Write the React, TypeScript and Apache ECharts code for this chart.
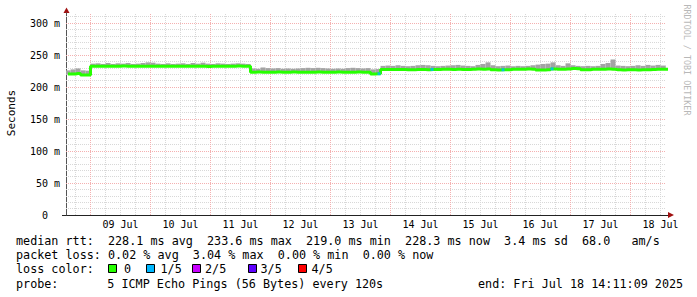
import React, { useEffect, useRef } from 'react';
import * as echarts from 'echarts';

// time is measured in hours after 08 Jul 00:00
const axisStart = 14.19;
const axisEnd = 254.19;
const startHour = 15;
const stepHours = 2;

const medianMs = [
  220.3, 220.3, 221.0, 218.8, 218.8,
  232.6, 232.5, 232.4, 232.6, 232.5, 232.5, 232.7, 232.5, 232.4, 232.5,
  232.6, 232.5, 232.5, 232.4, 232.6, 232.5, 232.5, 232.3, 232.4, 232.5,
  232.6, 232.5, 232.4, 232.2, 232.3, 232.5, 232.4, 232.6, 232.5, 232.7,
  232.6, 232.5,
  223.1, 223.3, 223.2, 223.0, 223.2, 223.3, 223.1, 223.2, 223.4, 223.2,
  223.1, 223.0, 223.2, 223.3, 223.2, 223.1, 223.2, 223.3, 223.1, 223.0,
  223.2, 223.3, 223.2, 223.1,
  220.5, 220.8,
  227.2, 227.3, 227.2, 227.4, 227.2, 227.0, 227.1, 227.3, 227.2, 227.0,
  227.3, 227.5, 227.6, 227.8, 227.5, 227.6, 227.4, 227.2, 227.8, 228.0,
  227.9, 228.2, 226.8, 226.7, 226.8, 227.0, 227.8, 227.9, 227.7, 228.0,
  227.8, 226.5, 226.4, 227.0, 228.3, 227.6, 227.9, 228.0, 228.9, 228.5,
  226.9, 227.1, 227.8, 227.9, 227.8, 228.0, 227.7, 226.8, 226.7, 226.9,
  226.8, 226.7, 226.9, 227.0, 227.5, 227.6, 227.8, 227.8,
];

const smokeTopMs = [
  226, 227.5, 229, 226, 225.5,
  236.5, 237, 236, 237.5, 236, 237, 236.5, 237.5, 236, 236.5,
  237.5, 238.5, 238, 236.5, 236, 237, 236, 236.5, 237, 236,
  237.5, 236.5, 238, 236.5, 236, 237, 236.5, 236, 236.5, 237,
  236.5, 236,
  229, 228.5, 230.5, 229.5, 229, 229.5, 228.5, 229, 228.5, 229,
  229.5, 230, 229.5, 230, 229.5, 229, 228.5, 229, 228.5, 229.5,
  230, 229.5, 229, 229.5,
  227.5, 228,
  233, 233.5, 233, 234, 233, 232.5, 233, 234, 234.5, 234,
  233, 232.5, 233, 233.5, 234, 234.5, 233.5, 233, 232.5, 234.5,
  236, 238.5, 234, 232.5, 233, 233.5, 232.5, 233, 232.5, 233,
  234, 235, 236, 236.5, 238.5, 234, 233, 237, 234, 233,
  232.5, 233, 232.5, 233, 236, 237.5, 243, 233.5, 233, 232.5,
  233, 234, 233, 234.5, 233.5, 234.5, 233.5, 233.5,
];

const lossHours = [139.4, 160.6, 189.0, 208.6];
const lossMs = [220.8, 227.4, 226.8, 228.3];

const dayLabels = ['09 Jul', '10 Jul', '11 Jul', '12 Jul', '13 Jul', '14 Jul', '15 Jul', '16 Jul', '17 Jul', '18 Jul'];
const dayLabelHours = [36, 60, 84, 108, 132, 156, 180, 204, 228, 252];
const majorXHours = [24, 48, 72, 96, 120, 144, 168, 192, 216, 240];
const minorXHours = [18, 30, 36, 42, 54, 60, 66, 78, 84, 90, 102, 108, 114, 126, 132, 138, 150, 156, 162, 174, 180, 186, 198, 204, 210, 222, 228, 234, 246, 252];
const majorYTicks = [50, 100, 150, 200, 250, 300];
const minorYTicks = [10, 20, 30, 40, 60, 70, 80, 90, 110, 120, 130, 140, 160, 170, 180, 190, 210, 220, 230, 240, 260, 270, 280, 290, 310];

const legendLine1 = 'median rtt:  228.1 ms avg  233.6 ms max  219.0 ms min  228.3 ms now  3.4 ms sd  68.0   am/s';
const legendLine2 = 'packet loss: 0.02 % avg  3.04 % max  0.00 % min  0.00 % now';
const lossLabels = ['0', '1/5', '2/5', '3/5', '4/5'];
const lossColors = ['#26ff00', '#00b8ff', '#c800ff', '#5e00ff', '#ff0000'];
const probeText = '5 ICMP Echo Pings (56 Bytes) every 120s';
const endText = 'end: Fri Jul 18 14:11:09 2025';

const MONO = '"DejaVu Sans Mono", monospace';

export default function App() {
  const ref = useRef<HTMLDivElement>(null);
  useEffect(() => {
    const chart = echarts.init(ref.current as HTMLDivElement, null, { renderer: 'svg' });
    const times = medianMs.map((_, i) => startHour + i * stepHours);
    const medianData = times.map((t, i) => [t, medianMs[i]]);
    const smokeData = times.map((t, i) => [t, medianMs[i] - 1, smokeTopMs[i]]);
    const lossData = lossHours.map((t, i) => [t, lossMs[i]]);

    const minorStyle = { color: '#d8d8d8', type: [1, 1], width: 1 };
    const majorStyle = { color: '#f4b0b0', type: [1, 1], width: 1 };
    const gridLines: any[] = [
      ...minorXHours.map((h) => ({ xAxis: h, lineStyle: minorStyle })),
      ...minorYTicks.map((v) => ({ yAxis: v, lineStyle: minorStyle })),
      ...majorXHours.map((h) => ({ xAxis: h, lineStyle: majorStyle })),
      ...majorYTicks.map((v) => ({ yAxis: v, lineStyle: majorStyle })),
    ];

    const legendFont = `11.76px ${MONO}`;
    const boxX = [108.5, 146.5, 192.5, 248.5, 298.5];
    const labelX = [124, 160.5, 205, 260.5, 311.5];
    const graphics: any[] = [
      { type: 'text', x: 11, y: 113, rotation: Math.PI / 2, style: { text: 'Seconds', font: `11px ${MONO}`, fill: '#000', align: 'center', verticalAlign: 'middle' } },
      { type: 'text', x: 687, y: 60, rotation: -Math.PI / 2, style: { text: 'RRDTOOL / TOBI OETIKER', font: `8.4px ${MONO}`, fill: '#b8b8b8', align: 'center', verticalAlign: 'middle' } },
      { type: 'polygon', shape: { points: [[63.5, 13], [69.5, 13], [66.5, 7.5]] }, style: { fill: '#a01010' } },
      { type: 'polygon', shape: { points: [[668, 212], [668, 218], [674, 215]] }, style: { fill: '#a01010' } },
      { type: 'line', shape: { x1: 62, y1: 215.5, x2: 668, y2: 215.5 }, style: { stroke: '#222', lineWidth: 1 } },
      { type: 'text', x: 16, y: 241, style: { text: legendLine1, font: legendFont, fill: '#000', align: 'left', verticalAlign: 'middle' } },
      { type: 'text', x: 16, y: 255, style: { text: legendLine2, font: legendFont, fill: '#000', align: 'left', verticalAlign: 'middle' } },
      { type: 'text', x: 16, y: 269, style: { text: 'loss color:', font: legendFont, fill: '#000', align: 'left', verticalAlign: 'middle' } },
      { type: 'text', x: 16, y: 283.5, style: { text: 'probe:', font: legendFont, fill: '#000', align: 'left', verticalAlign: 'middle' } },
      { type: 'text', x: 107.3, y: 283.5, style: { text: probeText, font: legendFont, fill: '#000', align: 'left', verticalAlign: 'middle' } },
      { type: 'text', x: 478, y: 283.5, style: { text: endText, font: legendFont, fill: '#000', align: 'left', verticalAlign: 'middle' } },
    ];
    lossLabels.forEach((lab, i) => {
      graphics.push({ type: 'rect', shape: { x: boxX[i], y: 264.5, width: 8, height: 8 }, style: { fill: lossColors[i], stroke: '#000', lineWidth: 1 } });
      graphics.push({ type: 'text', x: labelX[i], y: 269, style: { text: lab, font: legendFont, fill: '#000', align: 'left', verticalAlign: 'middle' } });
    });

    chart.setOption({
      animation: false,
      backgroundColor: '#ffffff',
      grid: { left: 66, top: 13, width: 600, height: 202, containLabel: false },
      xAxis: {
        type: 'value',
        min: axisStart,
        max: axisEnd,
        splitLine: { show: false },
        axisTick: { show: false },
        axisLine: { show: false },
        axisLabel: {
          customValues: dayLabelHours,
          formatter: (v: number) => {
            const k = dayLabelHours.findIndex((h) => Math.abs(h - v) < 0.01);
            return k >= 0 ? dayLabels[k] : '';
          },
          fontFamily: MONO,
          fontSize: 10,
          color: '#000',
          margin: 4,
        },
      },
      yAxis: {
        type: 'value',
        min: 0,
        max: 315.625,
        interval: 50,
        splitLine: { show: false },
        axisTick: { show: false },
        axisLine: { show: true, lineStyle: { color: '#555', width: 1 } },
        axisLabel: {
          showMaxLabel: false,
          formatter: (v: number) => (v === 0 ? '0\u00a0\u00a0' : `${v} m`),
          fontFamily: MONO,
          fontSize: 10,
          color: '#000',
          margin: 6,
        },
      },
      graphic: graphics,
      series: [
        {
          name: 'smoke',
          type: 'custom',
          data: smokeData,
          clip: true,
          z: 3,
          renderItem: (params: any, api: any) => {
            const t = api.value(0);
            const lo = api.value(1);
            const hi = api.value(2);
            const p1 = api.coord([t - stepHours / 2, hi]);
            const p2 = api.coord([t + stepHours / 2, lo]);
            return {
              type: 'rect',
              shape: { x: p1[0], y: p1[1], width: p2[0] - p1[0], height: p2[1] - p1[1] },
              style: { fill: '#a3a3a3' },
            };
          },
        },
        {
          name: 'median',
          type: 'line',
          data: medianData,
          step: 'middle',
          symbol: 'none',
          lineStyle: { color: '#26ff00', width: 3 },
          z: 4,
          markLine: {
            silent: true,
            symbol: 'none',
            label: { show: false },
            z: 1,
            animation: false,
            data: gridLines,
          },
        },
        {
          name: 'loss',
          type: 'scatter',
          data: lossData,
          symbol: 'rect',
          symbolSize: [3, 3],
          itemStyle: { color: '#00b8ff' },
          z: 5,
        },
      ],
    });
    return () => chart.dispose();
  }, []);
  return <div ref={ref} style={{ position: 'fixed', left: 0, top: 0, width: 697, height: 297, background: '#fff' }} />;
}
